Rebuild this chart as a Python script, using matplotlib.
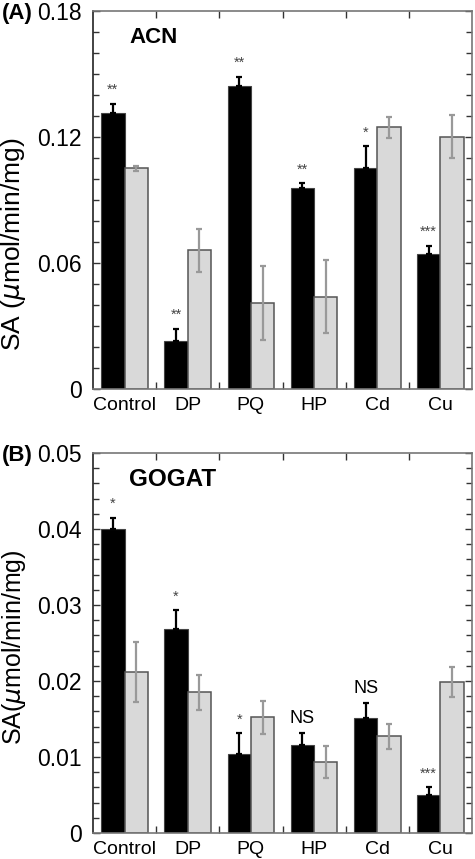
import numpy as np
import matplotlib
matplotlib.use("Agg")
import matplotlib.pyplot as plt
from matplotlib.ticker import MultipleLocator, FixedLocator

plt.rcParams['font.family'] = ['Liberation Sans', 'DejaVu Sans']

categories = ["Control", "DP", "PQ", "HP", "Cd", "Cu"]

# Panel A: ACN
acn_black = [0.1315, 0.0227, 0.1441, 0.0955, 0.1050, 0.0642]
acn_black_err = [0.0044, 0.0060, 0.0046, 0.0024, 0.0105, 0.0040]
acn_gray = [0.1050, 0.0660, 0.0409, 0.0439, 0.1246, 0.1202]
acn_gray_err = [0.0014, 0.0104, 0.0176, 0.0173, 0.0050, 0.0102]
acn_sig = ["**", "**", "**", "**", "*", "***"]

# Panel B: GOGAT
gog_black = [0.0400, 0.0268, 0.0104, 0.0116, 0.0151, 0.0050]
gog_black_err = [0.0015, 0.0025, 0.0027, 0.0016, 0.0020, 0.0010]
gog_gray = [0.0212, 0.0185, 0.0152, 0.0094, 0.0127, 0.0199]
gog_gray_err = [0.0039, 0.0023, 0.0022, 0.0021, 0.0016, 0.0020]
gog_sig = ["*", "*", "*", "NS", "NS", "***"]

fig = plt.figure(figsize=(4.75, 8.59), dpi=100)
axA = fig.add_axes([93/475, 1-389/859, 379/475, 378/859])
axB = fig.add_axes([93/475, 1-833/859, 379/475, 380/859])

def draw(ax, black, berr, gray, gerr, sig, ymax, major, minor, title, tsize):
    n = len(categories)
    x = np.arange(n) + 0.5
    w = 0.37
    ax.bar(x - w/2, black, w, color='black', edgecolor='#444444', linewidth=0.8, zorder=2)
    ax.bar(x + w/2, gray, w, color='#d9d9d9', edgecolor='#555555', linewidth=1.1, zorder=2)
    ax.errorbar(x - w/2, black, yerr=[np.zeros(n), berr], fmt='none', ecolor='black',
                elinewidth=1.6, capsize=2.5, capthick=1.6, zorder=3)
    ax.errorbar(x + w/2, gray, yerr=gerr, fmt='none', ecolor='#999999',
                elinewidth=1.6, capsize=2.5, capthick=1.6, zorder=3)
    for xi, top, e, s in zip(x - w/2, black, berr, sig):
        if s == "NS":
            ax.annotate(s, (xi, top + e), xytext=(0, 4), textcoords='offset points',
                        ha='center', va='bottom', fontsize=13, color='black')
        else:
            ax.annotate(s, (xi, top + e), xytext=(0, 5), textcoords='offset points',
                        ha='center', va='bottom', fontsize=10.5, color='#444444')
    ax.set_xlim(0, n)
    ax.set_ylim(0, ymax)
    ax.set_xticks(x)
    ax.set_xticklabels(categories, fontsize=14)
    ax.xaxis.set_minor_locator(FixedLocator(np.arange(1, n)))
    ax.tick_params(axis='x', which='major', length=0, pad=6)
    ax.tick_params(axis='x', which='minor', direction='in', length=5, width=1,
                   top=True, bottom=True, color='#333333')
    ax.yaxis.set_major_locator(MultipleLocator(major))
    ax.yaxis.set_minor_locator(MultipleLocator(minor))
    ax.yaxis.set_major_formatter(matplotlib.ticker.FuncFormatter(
        lambda v, p: "0" if abs(v) < 1e-12 else ("%g" % round(v, 4))))
    ax.tick_params(axis='y', which='both', direction='in', left=True, right=True,
                   width=1, color='#333333')
    ax.tick_params(axis='y', which='major', length=5, labelsize=16.5, pad=8)
    ax.tick_params(axis='y', which='minor', length=4)
    for side in ['top', 'right', 'bottom']:
        ax.spines[side].set_color('#777777')
        ax.spines[side].set_linewidth(1.2)
    ax.spines['left'].set_color('#222222')
    ax.spines['left'].set_linewidth(1.2)
    ax.text(0.095, 0.93, title, transform=ax.transAxes, fontsize=tsize,
            fontweight='bold', ha='left', va='center')
    return ax

draw(axA, acn_black, acn_black_err, acn_gray, acn_gray_err, acn_sig,
     0.18, 0.06, 0.01, "ACN", 16)
draw(axB, gog_black, gog_black_err, gog_gray, gog_gray_err, gog_sig,
     0.05, 0.01, 0.002, "GOGAT", 17.5)

fig.text(2/475, 1-13/859, "(A)", fontsize=16, fontweight='bold', ha='left', va='center')
fig.text(2/475, 1-455/859, "(B)", fontsize=16, fontweight='bold', ha='left', va='center')
fig.text(14/475, 1-244/859, r"SA ($\mu$mol/min/mg)", fontsize=19, rotation=90,
         ha='center', va='center')
fig.text(14/475, 1-647/859, r"SA($\mu$mol/min/mg)", fontsize=18, rotation=90,
         ha='center', va='center')

fig.savefig("out.png", dpi=100)
